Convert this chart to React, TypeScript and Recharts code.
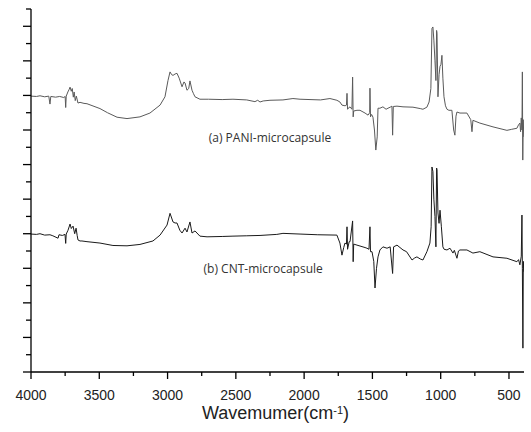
import React from 'react';
import { LineChart, Line, XAxis, YAxis, ReferenceDot } from 'recharts';

// Spectrum (a) PANI-microcapsule : wavenumber (cm-1) and relative transmittance (offset units)
const wavenumbersA = [
  4000, 3960, 3934, 3900, 3870, 3861, 3855, 3820, 3790, 3760, 3750, 3746, 3742, 3730, 3720, 3714, 3705, 3698, 3690, 3684,
  3676, 3668, 3656, 3641, 3612, 3590, 3495, 3440, 3370, 3297, 3202, 3129, 3055, 3019, 2997, 2982, 2970, 2960, 2945, 2931,
  2915, 2894, 2880, 2872, 2858, 2845, 2836, 2821, 2810, 2799, 2763, 2700, 2600, 2521, 2420, 2360, 2340, 2323, 2300, 2250,
  2155, 2082, 2030, 1957, 1880, 1811, 1760, 1738, 1723, 1700, 1690, 1686, 1682, 1679, 1664, 1650, 1645, 1641, 1637, 1613,
  1591, 1554, 1532, 1520, 1518, 1514, 1506, 1503, 1496, 1485, 1475, 1465, 1459, 1445, 1423, 1400, 1386, 1370, 1357, 1352,
  1347, 1320, 1276, 1203, 1150, 1130, 1101, 1085, 1072, 1064, 1057, 1050, 1042, 1035, 1030, 1027, 1020, 1012, 1005, 998,
  991, 984, 976, 965, 954, 940, 918, 905, 896, 888, 881, 859, 808, 780, 771, 764, 713, 617, 515, 480,
  442, 430, 420, 415, 410, 405, 402, 399, 396, 391,
];
const valuesA = [
  7.98, 7.97, 7.99, 7.96, 7.98, 7.75, 7.97, 7.95, 7.97, 7.94, 7.97, 7.65, 7.98, 8.10, 8.18, 8.24, 8.12, 8.20, 7.95, 8.10,
  7.85, 7.98, 7.78, 7.80, 7.77, 7.76, 7.62, 7.50, 7.37, 7.33, 7.38, 7.49, 7.72, 7.96, 8.43, 8.68, 8.60, 8.58, 8.62, 8.64,
  8.50, 8.25, 8.39, 8.36, 8.15, 8.20, 8.42, 8.15, 8.05, 7.96, 7.89, 7.89, 7.88, 7.89, 7.87, 7.82, 7.86, 7.81, 7.84, 7.86,
  7.87, 7.91, 7.89, 7.88, 7.87, 7.91, 7.86, 7.81, 7.72, 7.70, 7.72, 8.06, 7.60, 7.62, 7.67, 7.60, 8.53, 7.38, 7.55, 7.57,
  7.57, 7.49, 7.43, 7.50, 8.21, 7.38, 7.45, 7.43, 7.37, 7.00, 6.42, 6.80, 7.63, 7.63, 7.67, 7.60, 7.63, 7.66, 7.69, 6.85,
  7.68, 7.69, 7.67, 7.66, 7.62, 7.60, 7.66, 7.81, 8.20, 9.94, 9.98, 9.60, 9.00, 8.43, 9.88, 9.80, 7.96, 8.60, 8.84, 8.90,
  9.16, 8.50, 7.96, 7.70, 7.60, 7.57, 7.57, 7.00, 6.85, 7.40, 7.52, 7.49, 7.49, 7.30, 6.95, 7.28, 7.20, 7.09, 6.99, 7.02,
  7.05, 7.15, 7.20, 6.95, 7.35, 7.00, 8.68, 6.13, 7.30, 6.80,
];

// Spectrum (b) CNT-microcapsule
const wavenumbersB = [
  4000, 3960, 3934, 3900, 3861, 3840, 3802, 3795, 3770, 3751, 3746, 3742, 3729, 3714, 3705, 3692, 3680, 3670, 3662, 3656,
  3641, 3627, 3590, 3495, 3400, 3297, 3202, 3107, 3055, 3004, 2982, 2960, 2945, 2931, 2910, 2894, 2872, 2858, 2836, 2821,
  2799, 2763, 2711, 2600, 2521, 2420, 2323, 2200, 2155, 2030, 1900, 1760, 1738, 1723, 1710, 1701, 1690, 1686, 1682, 1670,
  1664, 1645, 1641, 1637, 1613, 1554, 1540, 1525, 1518, 1514, 1503, 1490, 1481, 1470, 1459, 1445, 1423, 1393, 1370, 1352,
  1345, 1320, 1276, 1250, 1210, 1190, 1174, 1150, 1130, 1101, 1079, 1070, 1064, 1057, 1050, 1042, 1035, 1030, 1027, 1020,
  1012, 1005, 995, 984, 975, 954, 932, 910, 900, 881, 870, 859, 808, 764, 713, 617, 515, 442, 430, 420,
  410, 405, 402, 398, 395, 391,
];
const valuesB = [
  3.99, 3.98, 4.00, 3.96, 3.97, 3.94, 3.87, 3.97, 3.95, 3.98, 3.72, 3.99, 4.10, 4.28, 4.15, 4.22, 4.00, 4.16, 3.95, 3.82,
  3.79, 3.79, 3.77, 3.73, 3.66, 3.65, 3.69, 3.79, 3.96, 4.25, 4.59, 4.34, 4.31, 4.31, 4.10, 4.02, 4.16, 4.05, 4.34, 4.02,
  4.08, 3.93, 3.91, 3.92, 3.93, 3.94, 3.95, 3.98, 4.01, 3.99, 3.97, 3.96, 3.73, 3.38, 3.60, 3.73, 3.70, 4.20, 3.55, 3.77,
  3.77, 4.37, 3.19, 3.70, 3.67, 3.60, 3.58, 3.55, 4.20, 3.48, 3.48, 3.20, 2.43, 3.00, 3.33, 3.53, 3.62, 3.58, 3.62, 2.85,
  3.62, 3.67, 3.53, 3.48, 3.24, 3.30, 3.33, 3.27, 3.24, 3.48, 3.73, 4.20, 5.93, 5.80, 5.00, 4.50, 3.62, 5.90, 5.85, 4.60,
  4.30, 4.68, 4.20, 3.62, 3.55, 3.53, 3.58, 3.44, 3.52, 3.29, 3.50, 3.53, 3.53, 3.44, 3.48, 3.33, 3.29, 3.19, 3.25, 3.10,
  3.35, 4.54, 3.00, 0.69, 3.20, 2.90,
];

const xMajorTicks = [4000, 3500, 3000, 2500, 2000, 1500, 1000, 500];
const xMinorTicks = [3750, 3250, 2750, 2250, 1750, 1250, 750];
const yMajorTicks = [0, 1, 2, 3, 4, 5, 6, 7, 8, 9, 10];
const yMinorTicks = [0.5, 1.5, 2.5, 3.5, 4.5, 5.5, 6.5, 7.5, 8.5, 9.5, 10.5];
const seriesLabels = ['(a) PANI-microcapsule', '(b) CNT-microcapsule'];
const labelAnchorsW = [2250, 2300];
const labelAnchorsV = [6.79, 3.0];
const axisTitle = 'Wavemumer(cm';
const axisTitleSup = '-1';

const dataA = wavenumbersA.map((w, i) => ({ w, v: valuesA[i] }));
const dataB = wavenumbersB.map((w, i) => ({ w, v: valuesB[i] }));

const allXTicks = [...xMajorTicks, ...xMinorTicks].sort((a, b) => b - a);
const allYTicks = [...yMajorTicks, ...yMinorTicks].sort((a, b) => a - b);

const XTick = (props: any) => {
  const { x, y, payload } = props;
  const major = xMajorTicks.includes(payload.value);
  return (
    <g>
      <line x1={x} x2={x} y1={y} y2={y + (major ? 7 : 4)} stroke="#000" strokeWidth={1.3} />
      {major && (
        <text x={x} y={y + 28} textAnchor="middle" fontSize={14} fill="#222" fontFamily="'Liberation Sans', Arial, sans-serif">
          {payload.value}
        </text>
      )}
    </g>
  );
};

const YTick = (props: any) => {
  const { x, y, payload } = props;
  const major = yMajorTicks.includes(payload.value);
  return <line x1={x} x2={x - (major ? 8 : 5)} y1={y} y2={y} stroke="#000" strokeWidth={1.3} />;
};

export default function App() {
  return (
    <div style={{ position: 'absolute', left: 0, top: 0, width: 531, height: 432, background: '#fff' }}>
      <LineChart width={531} height={432} margin={{ top: 9, right: 7, bottom: 0, left: 0 }}>
        <XAxis
          type="number"
          dataKey="w"
          domain={[390, 4000]}
          reversed
          allowDataOverflow
          ticks={allXTicks}
          interval={0}
          tickLine={false}
          tickSize={0}
          tickMargin={0}
          tick={<XTick />}
          height={60}
          axisLine={{ stroke: '#000', strokeWidth: 1.3 }}
        />
        <YAxis
          type="number"
          domain={[0, 10.5]}
          allowDataOverflow
          ticks={allYTicks}
          interval={0}
          tickLine={false}
          tickSize={0}
          tickMargin={0}
          tick={<YTick />}
          width={31}
          axisLine={{ stroke: '#000', strokeWidth: 1.3 }}
        />
        <Line data={dataA} dataKey="v" type="linear" stroke="#5a5a5a" strokeWidth={1} dot={false} isAnimationActive={false} />
        <Line data={dataB} dataKey="v" type="linear" stroke="#1a1a1a" strokeWidth={1} dot={false} isAnimationActive={false} />
        {seriesLabels.map((s, i) => (
          <ReferenceDot
            key={s}
            x={labelAnchorsW[i]}
            y={labelAnchorsV[i]}
            r={0}
            ifOverflow="visible"
            label={{ value: s, position: 'center', fontSize: 12, fill: '#333', fontFamily: "'Open Sans', 'Noto Sans', sans-serif" }}
          />
        ))}
      </LineChart>
      <div
        style={{
          position: 'absolute',
          left: 0,
          width: 551,
          top: 403,
          textAlign: 'center',
          fontFamily: "'Liberation Sans', Arial, sans-serif",
          fontSize: 18,
          color: '#222',
          lineHeight: '20px',
        }}
      >
        {axisTitle}
        <sup style={{ fontSize: 11, verticalAlign: 'top', position: 'relative', top: -3 }}>{axisTitleSup}</sup>)
      </div>
    </div>
  );
}
